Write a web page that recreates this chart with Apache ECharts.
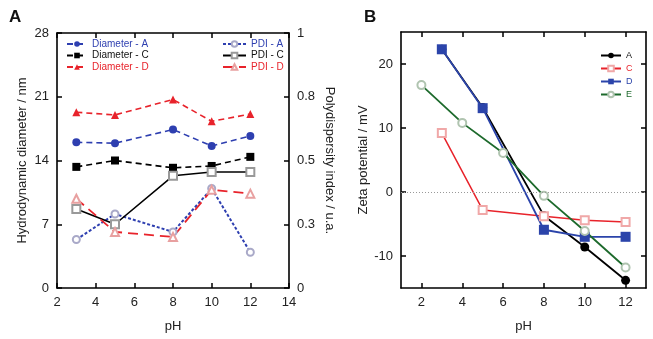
<!DOCTYPE html>
<html>
<head>
<meta charset="utf-8">
<script src="https://cdn.jsdelivr.net/npm/echarts@6/dist/echarts.min.js"></script>
<style>
html,body{margin:0;padding:0;background:#fff;}
#main{width:653px;height:339px;}
</style>
</head>
<body>
<div id="main"></div>
<script>
// panel A data (pH vs diameter / PDI)
var phA = [3, 5, 8, 10, 12];
var diamA = [16.0, 15.9, 17.4, 15.6, 16.7];
var diamC = [13.3, 14.0, 13.2, 13.4, 14.4];
var diamD = [19.3, 19.0, 20.7, 18.3, 19.1];
var pdiA = [0.19, 0.29, 0.22, 0.39, 0.14];
var pdiC = [0.31, 0.25, 0.44, 0.455, 0.455];
var pdiD = [0.35, 0.22, 0.20, 0.385, 0.37];

// panel B data (zeta potential)
var phB_A = [3, 5, 8, 10, 12];
var zetaA = [22.3, 13.2, -3.7, -8.6, -13.8];
var phB_C = [3, 5, 8, 10, 12];
var zetaC = [9.2, -2.8, -3.8, -4.4, -4.7];
var phB_D = [3, 5, 8, 10, 12];
var zetaD = [22.3, 13.1, -5.9, -7.0, -7.0];
var phB_E = [2, 4, 6, 8, 10, 12];
var zetaE = [16.7, 10.8, 6.1, -0.6, -6.1, -11.8];
var xTicksB = [2, 4, 6, 8, 10, 12];
var yTicksB = [-10, 0, 10, 20];

var font = '"Liberation Sans", Arial, sans-serif';
var blue = '#2e3fb0', red = '#e8232b', green = '#1d6a2c', blueB = '#2b44aa';

function pairs(xs, ys) {
    return xs.map(function (x, i) { return [x, ys[i]]; });
}

var lineAx = {onZero: false, lineStyle: {color: '#000', width: 1.6}};
var tickAx = {inside: true, length: 5, lineStyle: {color: '#000', width: 1.5}};
var labAx = {color: '#222', fontSize: 13, fontFamily: font};
var nameTs = {color: '#222', fontSize: 13, fontFamily: font};

function ax(o) {
    var a = {
        type: 'value',
        axisLine: lineAx,
        axisTick: tickAx,
        axisLabel: labAx,
        splitLine: {show: false},
        nameLocation: 'middle',
        nameTextStyle: nameTs
    };
    for (var k in o) a[k] = o[k];
    return a;
}

var myChart = echarts.init(document.getElementById('main'));
option = {
    backgroundColor: '#fff',
    animation: false,
    title: [
        {text: 'A', left: 4, top: 4, textStyle: {fontSize: 17, fontWeight: 'bold', fontFamily: font, color: '#111'}},
        {text: 'B', left: 359, top: 4, textStyle: {fontSize: 17, fontWeight: 'bold', fontFamily: font, color: '#111'}}
    ],
    grid: [
        {left: 57, top: 33, width: 232, height: 255},
        {left: 401, top: 32, width: 245, height: 256}
    ],
    legend: [
        {
            orient: 'vertical', left: 66, top: 39, itemWidth: 20, itemHeight: 7, itemGap: 1.5, padding: 0,
            textStyle: {fontSize: 10, lineHeight: 9, fontFamily: font},
            data: [
                {name: 'Diameter - A', textStyle: {color: blue}},
                {name: 'Diameter - C', textStyle: {color: '#111'}},
                {name: 'Diameter - D', textStyle: {color: red}}
            ]
        },
        {
            orient: 'vertical', left: 222, top: 39, itemWidth: 23, itemHeight: 7, itemGap: 1.5, padding: 0,
            textStyle: {fontSize: 10, lineHeight: 9, fontFamily: font},
            data: [
                {name: 'PDI - A', textStyle: {color: blue}},
                {name: 'PDI - C', textStyle: {color: '#111'}},
                {name: 'PDI - D', textStyle: {color: red}}
            ]
        },
        {
            orient: 'vertical', left: 600, top: 51, itemWidth: 20, itemHeight: 7, itemGap: 4, padding: 0,
            textStyle: {fontSize: 9, lineHeight: 8, fontFamily: font},
            data: [
                {name: 'A', textStyle: {color: '#111'}},
                {name: 'C', textStyle: {color: red}},
                {name: 'D', textStyle: {color: blueB}},
                {name: 'E', textStyle: {color: green}}
            ]
        }
    ],
    xAxis: [
        ax({gridIndex: 0, position: 'bottom', min: 2, max: 14, interval: 2, name: 'pH', nameGap: 32}),
        ax({gridIndex: 0, position: 'top', min: 2, max: 14, interval: 2, axisLabel: {show: false}}),
        ax({gridIndex: 1, position: 'bottom', min: 1, max: 13, name: 'pH', nameGap: 32,
            axisTick: {inside: true, length: 5, lineStyle: {color: '#000', width: 1.5}, customValues: xTicksB},
            axisLabel: {color: '#222', fontSize: 13, fontFamily: font, customValues: xTicksB}}),
        ax({gridIndex: 1, position: 'top', min: 1, max: 13,
            axisTick: {inside: true, length: 5, lineStyle: {color: '#000', width: 1.5}, customValues: xTicksB},
            axisLabel: {show: false}})
    ],
    yAxis: [
        ax({gridIndex: 0, position: 'left', min: 0, max: 28, interval: 7,
            name: 'Hydrodynamic diameter / nm', nameGap: 28}),
        ax({gridIndex: 0, position: 'right', min: 0, max: 1, interval: 0.25,
            name: 'Polydispersity index / u.a.', nameGap: 34, nameRotate: -90,
            axisLabel: {color: '#222', fontSize: 13, fontFamily: font,
                formatter: function (v) { return v % 1 === 0 ? String(v) : v.toFixed(1); }}}),
        ax({gridIndex: 1, position: 'left', min: -15, max: 25,
            name: 'Zeta potential / mV', nameGap: 25,
            axisTick: {inside: true, length: 5, lineStyle: {color: '#000', width: 1.5}, customValues: yTicksB},
            axisLabel: {color: '#222', fontSize: 13, fontFamily: font, customValues: yTicksB}}),
        ax({gridIndex: 1, position: 'right', min: -15, max: 25,
            axisTick: {inside: true, length: 5, lineStyle: {color: '#000', width: 1.5}, customValues: yTicksB},
            axisLabel: {show: false}})
    ],
    series: [
        {name: 'Diameter - A', type: 'line', xAxisIndex: 0, yAxisIndex: 0, data: pairs(phA, diamA),
            symbol: 'circle', symbolSize: 8, itemStyle: {color: blue},
            lineStyle: {color: blue, width: 1.6, type: [6, 4]}},
        {name: 'Diameter - C', type: 'line', xAxisIndex: 0, yAxisIndex: 0, data: pairs(phA, diamC),
            symbol: 'rect', symbolSize: 8, itemStyle: {color: '#000'},
            lineStyle: {color: '#000', width: 1.6, type: [6, 4]}},
        {name: 'Diameter - D', type: 'line', xAxisIndex: 0, yAxisIndex: 0, data: pairs(phA, diamD),
            symbol: 'triangle', symbolSize: 8, itemStyle: {color: red},
            lineStyle: {color: red, width: 1.6, type: [6, 4]}},
        {name: 'PDI - A', type: 'line', xAxisIndex: 0, yAxisIndex: 1, data: pairs(phA, pdiA),
            symbol: 'emptyCircle', symbolSize: 7, itemStyle: {color: '#a9a9c8', borderWidth: 1},
            lineStyle: {color: blue, width: 2, type: [3, 2]}},
        {name: 'PDI - C', type: 'line', xAxisIndex: 0, yAxisIndex: 1, data: pairs(phA, pdiC),
            symbol: 'emptyRect', symbolSize: 8, itemStyle: {color: '#999', borderWidth: 1},
            lineStyle: {color: '#000', width: 1.6}},
        {name: 'PDI - D', type: 'line', xAxisIndex: 0, yAxisIndex: 1, data: pairs(phA, pdiD),
            symbol: 'emptyTriangle', symbolSize: 8, itemStyle: {color: '#e8a0a0', borderWidth: 1},
            lineStyle: {color: red, width: 1.8, type: [10, 6]}},

        {name: 'A', type: 'line', xAxisIndex: 2, yAxisIndex: 2, data: pairs(phB_A, zetaA),
            symbol: 'circle', symbolSize: 9, itemStyle: {color: '#000'},
            lineStyle: {color: '#000', width: 1.8}},
        {name: 'C', type: 'line', xAxisIndex: 2, yAxisIndex: 2, data: pairs(phB_C, zetaC),
            symbol: 'emptyRect', symbolSize: 8, itemStyle: {color: '#f0a8a8', borderWidth: 1},
            lineStyle: {color: red, width: 1.5}},
        {name: 'D', type: 'line', xAxisIndex: 2, yAxisIndex: 2, data: pairs(phB_D, zetaD),
            symbol: 'rect', symbolSize: 10, itemStyle: {color: blueB},
            lineStyle: {color: blueB, width: 1.8}},
        {name: 'E', type: 'line', xAxisIndex: 2, yAxisIndex: 2, data: pairs(phB_E, zetaE),
            symbol: 'emptyCircle', symbolSize: 8, itemStyle: {color: '#b0c4b0', borderWidth: 1},
            lineStyle: {color: green, width: 1.8},
            markLine: {silent: true, symbol: 'none', label: {show: false},
                lineStyle: {color: '#999', type: [1, 2], width: 1},
                data: [{yAxis: 0}]}}
    ]
};
myChart.setOption(option, true);
</script>
</body>
</html>
